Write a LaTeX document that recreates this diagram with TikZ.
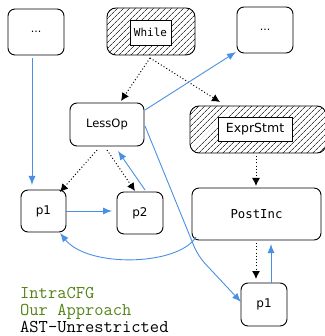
\documentclass[tikz,border=0pt]{standalone}
\usepackage{fontspec}
\setmainfont{DejaVu Sans}
\newfontfamily\codefont{DejaVu Sans Mono}
\newfontfamily\legendfont{Latin Modern Mono}
\usetikzlibrary{arrows.meta,patterns.meta}
\definecolor{flowblue}{RGB}{74,144,226}
\definecolor{legendgreen}{RGB}{84,132,24}
\tikzset{
  astnode/.style={draw, line width=0.9pt, rounded corners=7pt, inner sep=0pt, fill=white},
  hatchnode/.style={draw, line width=0.9pt, rounded corners=9pt, inner sep=0pt,
    pattern={Lines[angle=45,distance=4pt,line width=0.75pt]}, pattern color=black!75},
  tagbox/.style={draw, line width=0.8pt, fill=white, inner sep=2.5pt},
  astedge/.style={line width=1pt, dash pattern=on 1pt off 2.2pt, -{Latex[length=8pt,width=8pt]}},
  cfgedge/.style={flowblue, line width=0.9pt, -{Latex[length=9pt,width=7pt]}},
  legend/.style={anchor=base west, inner sep=0pt, font=\legendfont\fontsize{18}{18}\selectfont}
}
\begin{document}
\begin{tikzpicture}[x=1pt,y=-1pt]
\useasboundingbox (0,0) rectangle (324,336);

% AST nodes
\node[astnode, minimum width=56pt, minimum height=46pt] (dotsL) at (36,32) {\fontsize{11}{12}\selectfont ...};
\node[hatchnode, minimum width=88pt, minimum height=47pt] (while) at (151,31.5) {};
\node[tagbox, minimum width=41pt, minimum height=25pt] (whileTag) at (150.5,32.5) {\codefont\fontsize{11}{12}\selectfont While};
\node[astnode, minimum width=56pt, minimum height=46pt] (dotsR) at (265,30) {\fontsize{11}{12}\selectfont ...};
\node[astnode, minimum width=74pt, minimum height=43pt] (lessop) at (107,124.5) {\fontsize{11.5}{12}\selectfont LessOp};
\node[hatchnode, minimum width=136pt, minimum height=47pt] (expr) at (258,129.5) {};
\node[tagbox, minimum width=74pt, minimum height=24pt] (exprTag) at (255,129) {\fontsize{12.5}{13}\selectfont ExprStmt};
\node[astnode, minimum width=45pt, minimum height=42pt] (p1a) at (43.5,211) {\fontsize{12}{12}\selectfont p1};
\node[astnode, minimum width=46pt, minimum height=42pt] (p2) at (140,213) {\fontsize{12}{12}\selectfont p2};
\node[astnode, minimum width=129pt, minimum height=52pt] (postinc) at (256.5,214) {\codefont\fontsize{12.3}{13}\selectfont PostInc};
\node[astnode, minimum width=46pt, minimum height=43pt] (p1b) at (264,304.5) {\fontsize{12}{12}\selectfont p1};

% endpoints of the connectors
\coordinate (wB) at (150,58);
\coordinate (lTopTip) at (121,101);
\coordinate (eTopTip) at (220,102);
\coordinate (lBL) at (97,150);
\coordinate (lBM) at (107,150);
\coordinate (lBR) at (118,151);
\coordinate (p1aTip) at (60,192);
\coordinate (p2Tip) at (135,191);
\coordinate (p2Top) at (145,190);
\coordinate (lR1) at (145,110);
\coordinate (lR2) at (145,126);
\coordinate (dRTip) at (236,52);
\coordinate (dLB) at (32,58);
\coordinate (p1aTop) at (32,185);
\coordinate (p1aR) at (66,211);
\coordinate (p2L) at (112,211);
\coordinate (bend) at (198,256);
\coordinate (p1bL) at (241,302);
\coordinate (piBL) at (196,237);
\coordinate (p1aBot) at (60,233);
\coordinate (eB) at (256,156);
\coordinate (piTop) at (256,186);
\coordinate (piB) at (256,243);
\coordinate (p1bTip) at (256,279);
\coordinate (p1bTop) at (271,283);
\coordinate (piBot) at (271,244);

% AST edges
\draw[astedge] (wB) -- (lTopTip);
\draw[astedge] (wB) -- (eTopTip);
\draw[astedge] (lBL) -- (p1aTip);
\draw[astedge] (lBM) -- (p2Tip);
\draw[astedge] (eB) -- (piTop);
\draw[astedge] (piB) -- (p1bTip);

% control-flow edges
\draw[cfgedge] (lR1) -- (dRTip);
\draw[cfgedge] (dLB) -- (p1aTop);
\draw[cfgedge] (p1aR) -- (p2L);
\draw[cfgedge] (p2Top) -- (lBR);
\draw[cfgedge, rounded corners=10pt] (lR2) -- (bend) -- (p1bL);
\draw[cfgedge] (piBL) .. controls (178,266) and (88,268) .. (p1aBot);
\draw[cfgedge] (p1bTop) -- (piBot);

% legend
\node[legend, text=legendgreen] (lgIntra) at (20,298) {IntraCFG};
\node[legend, text=legendgreen] (lgOurs) at (20,315) {Our Approach};
\node[legend] (lgAst) at (20,332) {AST-Unrestricted};
\end{tikzpicture}
\end{document}
